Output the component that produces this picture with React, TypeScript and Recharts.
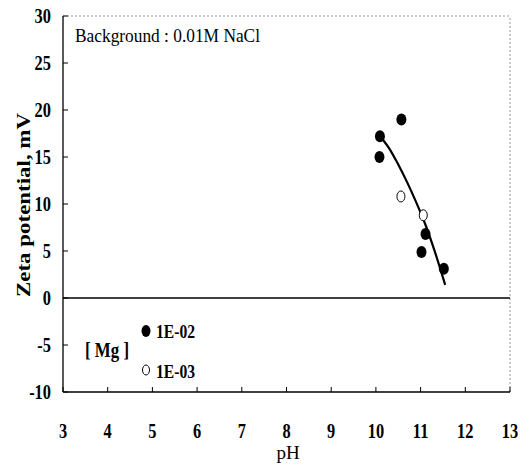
import React from 'react';
import { ComposedChart, Line, Scatter, XAxis, YAxis, ReferenceLine, Legend } from 'recharts';

const xTicks = [3, 4, 5, 6, 7, 8, 9, 10, 11, 12, 13];
const yTicks = [-10, -5, 0, 5, 10, 15, 20, 25, 30];

const mg1e2 = [
  { ph: 10.09, z: 17.2 },
  { ph: 10.08, z: 15.0 },
  { ph: 10.57, z: 19.0 },
  { ph: 11.11, z: 6.8 },
  { ph: 11.02, z: 4.9 },
  { ph: 11.52, z: 3.1 },
];

const mg1e3 = [
  { ph: 10.56, z: 10.8 },
  { ph: 11.06, z: 8.8 },
];

const fitCurve = [
  { ph: 10.13, z: 17.0 },
  { ph: 10.3, z: 15.9 },
  { ph: 10.5, z: 14.2 },
  { ph: 10.7, z: 12.3 },
  { ph: 10.9, z: 10.2 },
  { ph: 11.1, z: 7.9 },
  { ph: 11.3, z: 5.2 },
  { ph: 11.55, z: 1.4 },
];

const FONT = '"Liberation Serif", "Times New Roman", serif';

const YTick = (props: any) => {
  const { x, y, payload } = props;
  return (
    <g>
      <line x1={x} x2={x + 5} y1={y} y2={y} stroke="#000" strokeWidth={1} />
      <text
        transform={`translate(${x - 12},${y + 7}) scale(0.78,1)`}
        textAnchor="end"
        fontFamily={FONT}
        fontWeight="bold"
        fontSize={21}
        fill="#000"
      >
        {payload.value}
      </text>
    </g>
  );
};

const XTick = (props: any) => {
  const { x, y, payload } = props;
  return (
    <g>
      <line x1={x} x2={x} y1={y} y2={y - 5} stroke="#000" strokeWidth={1} />
      <text
        transform={`translate(${x},${y + 46}) scale(0.78,1)`}
        textAnchor="middle"
        fontFamily={FONT}
        fontWeight="bold"
        fontSize={21}
        fill="#000"
      >
        {payload.value}
      </text>
    </g>
  );
};

const FilledDot = (props: any) => {
  const { cx, cy } = props;
  return <ellipse cx={cx} cy={cy} rx={5} ry={6} fill="#000" />;
};

const OpenDot = (props: any) => {
  const { cx, cy } = props;
  return <ellipse cx={cx} cy={cy} rx={4} ry={5.5} fill="#fff" stroke="#000" strokeWidth={1} />;
};

const LegendContent = () => (
  <svg width={140} height={70} style={{ overflow: 'visible', display: 'block' }}>
    <text x={6} y={39} fontFamily={FONT} fontWeight="bold" fontSize={20} textLength={44} lengthAdjust="spacingAndGlyphs">
      [ Mg ]
    </text>
    <ellipse cx={67} cy={13} rx={4.5} ry={6} fill="#000" />
    <text x={77} y={20} fontFamily={FONT} fontWeight="bold" fontSize={19} textLength={39} lengthAdjust="spacingAndGlyphs">
      1E-02
    </text>
    <ellipse cx={67} cy={52} rx={3.5} ry={5} fill="#fff" stroke="#000" strokeWidth={1} />
    <text x={77} y={60} fontFamily={FONT} fontWeight="bold" fontSize={19} textLength={39} lengthAdjust="spacingAndGlyphs">
      1E-03
    </text>
  </svg>
);

export default function App() {
  return (
    <div style={{ position: 'absolute', left: 0, top: 0, width: 530, height: 464, background: '#fff' }}>
      <ComposedChart width={530} height={464} margin={{ top: 16, right: 20, bottom: 0, left: 0 }}>
        <XAxis
          type="number"
          dataKey="ph"
          domain={[3, 13]}
          ticks={xTicks}
          interval={0}
          height={72}
          tickSize={0}
          tickMargin={0}
          tick={<XTick />}
          axisLine={{ stroke: '#000', strokeWidth: 1.5 }}
          allowDataOverflow
        />
        <YAxis
          type="number"
          dataKey="z"
          domain={[-10, 30]}
          ticks={yTicks}
          interval={0}
          width={63}
          tickSize={0}
          tickMargin={0}
          tick={<YTick />}
          axisLine={{ stroke: '#000', strokeWidth: 1.3 }}
          allowDataOverflow
        />
        <ReferenceLine y={30} stroke="#999" strokeDasharray="2 2" strokeWidth={1} />
        <ReferenceLine x={13} stroke="#999" strokeDasharray="2 2" strokeWidth={1} />
        <ReferenceLine y={0} stroke="#000" strokeWidth={1.5} />
        <Line
          data={fitCurve}
          dataKey="z"
          type="monotone"
          stroke="#000"
          strokeWidth={2.2}
          dot={false}
          activeDot={false}
          isAnimationActive={false}
        />
        <Scatter data={mg1e2} dataKey="z" shape={<FilledDot />} isAnimationActive={false} />
        <Scatter data={mg1e3} dataKey="z" shape={<OpenDot />} isAnimationActive={false} />
        <Legend
          layout="horizontal"
          align="center"
          verticalAlign="middle"
          content={<LegendContent />}
          wrapperStyle={{ position: 'absolute', left: 79, top: 318, width: 140, height: 70 }}
        />
      </ComposedChart>
      <svg
        width={530}
        height={464}
        style={{ position: 'absolute', left: 0, top: 0, pointerEvents: 'none' }}
      >
        <text x={75} y={42} fontFamily={FONT} fontSize={18} textLength={185} lengthAdjust="spacingAndGlyphs" fill="#000">
          Background : 0.01M NaCl
        </text>
        <text
          transform="translate(30,205) rotate(-90)"
          textAnchor="middle"
          fontFamily={FONT}
          fontWeight="bold"
          fontSize={19}
          textLength={184}
          lengthAdjust="spacingAndGlyphs"
          fill="#000"
        >
          Zeta potential, mV
        </text>
        <text x={288} y={459} textAnchor="middle" fontFamily={FONT} fontSize={19} fill="#000">
          pH
        </text>
      </svg>
    </div>
  );
}
